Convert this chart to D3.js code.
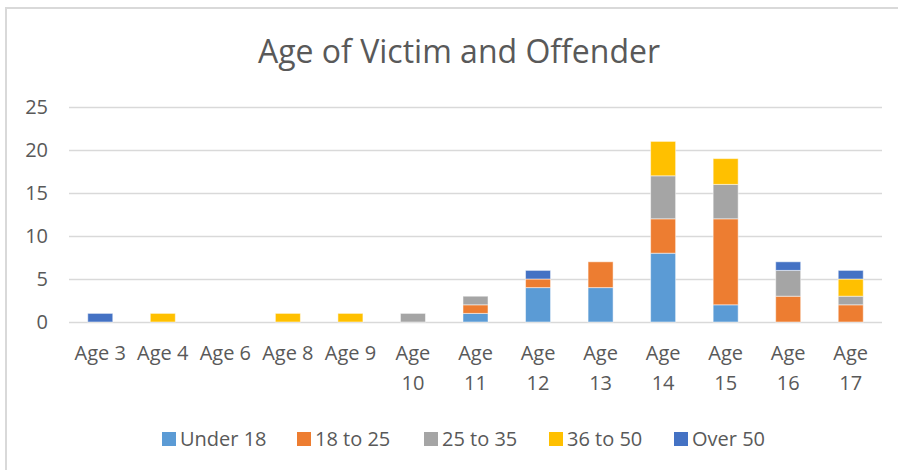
<!DOCTYPE html>
<html>
<head>
<meta charset="utf-8">
<script src="https://cdn.jsdelivr.net/npm/d3@7"></script>
<style>
  html, body { margin: 0; padding: 0; background: #fff; }
  svg { display: block; }
  text { font-family: "Open Sans", Lato, sans-serif; fill: #595959; }
</style>
</head>
<body>
<svg id="chart"></svg>
<script>
const categories = ["Age 3", "Age 4", "Age 6", "Age 8", "Age 9", "Age 10", "Age 11",
  "Age 12", "Age 13", "Age 14", "Age 15", "Age 16", "Age 17"];
const seriesNames = ["Under 18", "18 to 25", "25 to 35", "36 to 50", "Over 50"];
const under18  = [0, 0, 0, 0, 0, 0, 1, 4, 4, 8, 2, 0, 0];
const age18to25 = [0, 0, 0, 0, 0, 0, 1, 1, 3, 4, 10, 3, 2];
const age25to35 = [0, 0, 0, 0, 0, 1, 1, 0, 0, 5, 4, 3, 1];
const age36to50 = [0, 1, 0, 1, 1, 0, 0, 0, 0, 4, 3, 0, 2];
const over50   = [1, 0, 0, 0, 0, 0, 0, 1, 0, 0, 0, 1, 1];
const yTicks = [0, 5, 10, 15, 20, 25];
const colors = ["#5B9BD5", "#ED7D31", "#A5A5A5", "#FFC000", "#4472C4"];

const W = 898, H = 470;
const plot = { left: 69, right: 882, top: 107, bottom: 322 };

const svg = d3.select("#chart").attr("width", W).attr("height", H);

// chart frame (only top and left edges are visible in the crop)
svg.append("rect")
  .attr("x", 6).attr("y", 8)
  .attr("width", W + 10).attr("height", H + 10)
  .attr("fill", "#fff").attr("stroke", "#d9d9d9").attr("stroke-width", 2);

svg.append("text")
  .attr("x", 459).attr("y", 63)
  .attr("text-anchor", "middle")
  .style("font-size", "32px")
  .text("Age of Victim and Offender");

const x = d3.scaleBand().domain(categories).range([plot.left, plot.right]).paddingInner(0.6).paddingOuter(0.3);
const y = d3.scaleLinear().domain([0, 25]).range([plot.bottom, plot.top]);

// gridlines
svg.append("g").selectAll("line").data(yTicks).join("line")
  .attr("x1", plot.left).attr("x2", plot.right)
  .attr("y1", d => Math.round(y(d)) + 0.5).attr("y2", d => Math.round(y(d)) + 0.5)
  .attr("stroke", "#d9d9d9").attr("stroke-width", 1.5);

// y labels
svg.append("g").selectAll("text").data(yTicks).join("text")
  .attr("x", 48).attr("y", d => y(d))
  .attr("dy", "0.35em")
  .attr("text-anchor", "end")
  .style("font-size", "20px")
  .text(d => d);

// stacked bars
const table = categories.map((c, i) => ({
  cat: c,
  "Under 18": under18[i],
  "18 to 25": age18to25[i],
  "25 to 35": age25to35[i],
  "36 to 50": age36to50[i],
  "Over 50": over50[i]
}));
const stacked = d3.stack().keys(seriesNames)(table);

svg.append("g").selectAll("g").data(stacked).join("g")
  .attr("fill", (d, i) => colors[i])
  .selectAll("rect")
  .data(d => d.filter(s => s[1] > s[0]))
  .join("rect")
  .attr("x", d => x(d.data.cat))
  .attr("width", x.bandwidth())
  .attr("y", d => y(d[1]))
  .attr("height", d => y(d[0]) - y(d[1]))
  .attr("stroke", "#fff").attr("stroke-opacity", 0.5).attr("stroke-width", 1);

// x labels (two-digit ages wrap onto a second line, like Excel)
const xl = svg.append("g").selectAll("text").data(categories).join("text")
  .attr("text-anchor", "middle")
  .style("font-size", "20px");
xl.each(function (d) {
  const t = d3.select(this);
  const cx = x(d) + x.bandwidth() / 2;
  const parts = d.length > 5 ? d.split(" ") : [d];
  parts.forEach((p, k) => {
    t.append("tspan").attr("x", cx).attr("y", 360 + k * 30).text(p);
  });
});

// legend
const legendX = [162, 297, 424, 549, 674];
const lg = svg.append("g").selectAll("g").data(seriesNames).join("g")
  .attr("transform", (d, i) => `translate(${legendX[i]},439)`);
lg.append("rect").attr("x", 0).attr("y", -7).attr("width", 14).attr("height", 14)
  .attr("fill", (d, i) => colors[i]);
lg.append("text").attr("x", 18).attr("y", 0).attr("dy", "0.35em")
  .style("font-size", "20px").text(d => d);
</script>
</body>
</html>
